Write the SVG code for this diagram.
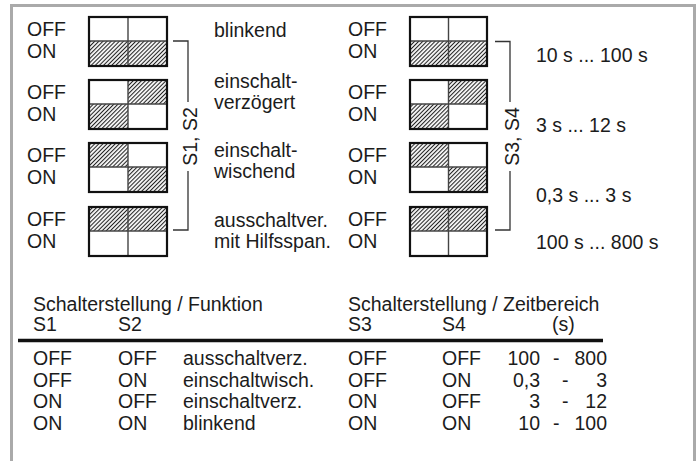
<svg xmlns="http://www.w3.org/2000/svg" width="697" height="461" viewBox="0 0 697 461">
<defs>
<pattern id="hatch" patternUnits="userSpaceOnUse" width="2.9" height="2.9" patternTransform="rotate(45)">
<rect width="2.9" height="2.9" fill="#f4f4f4"/>
<line x1="0.5" y1="0" x2="0.5" y2="2.9" stroke="#222" stroke-width="1"/>
</pattern>
<style>
text{font-family:"Liberation Sans",Arial,sans-serif;font-size:19.5px;fill:#1c1c1c}
.box{fill:none;stroke:#111;stroke-width:2.2}
.div{stroke:#444;stroke-width:1.4}
.h{fill:url(#hatch)}
.br{fill:none;stroke:#333;stroke-width:1.3}
.end{text-anchor:end}
</style>
</defs>
<rect x="11.5" y="5.5" width="683" height="470" fill="#fff" stroke="#aaaaaa" stroke-width="3"/>

<!-- left switches S1,S2 -->
<g id="sw-l1">
<rect class="h" x="89" y="41" width="78" height="25"/>
<line class="div" x1="128" y1="17" x2="128" y2="66"/><line class="div" x1="89" y1="41" x2="167" y2="41"/>
<rect class="box" x="89" y="17" width="78" height="49"/>
<text x="27" y="36">OFF</text><text x="27" y="58">ON</text>
</g>
<g id="sw-l2">
<rect class="h" x="128" y="80" width="39" height="24"/><rect class="h" x="89" y="104" width="39" height="25"/>
<line class="div" x1="128" y1="80" x2="128" y2="129"/><line class="div" x1="89" y1="104" x2="167" y2="104"/>
<rect class="box" x="89" y="80" width="78" height="49"/>
<text x="27" y="99">OFF</text><text x="27" y="121">ON</text>
</g>
<g id="sw-l3">
<rect class="h" x="89" y="143" width="39" height="24"/><rect class="h" x="128" y="167" width="39" height="25"/>
<line class="div" x1="128" y1="143" x2="128" y2="192"/><line class="div" x1="89" y1="167" x2="167" y2="167"/>
<rect class="box" x="89" y="143" width="78" height="49"/>
<text x="27" y="162">OFF</text><text x="27" y="184">ON</text>
</g>
<g id="sw-l4">
<rect class="h" x="89" y="207" width="78" height="24"/>
<line class="div" x1="128" y1="207" x2="128" y2="256"/><line class="div" x1="89" y1="231" x2="167" y2="231"/>
<rect class="box" x="89" y="207" width="78" height="49"/>
<text x="27" y="226">OFF</text><text x="27" y="248">ON</text>
</g>

<!-- function labels -->
<g id="labels-func">
<text x="214" y="37">blinkend</text>
<text x="214" y="88">einschalt-</text><text x="214" y="109">verzögert</text>
<text x="214" y="157">einschalt-</text><text x="214" y="178">wischend</text>
<text x="214" y="226.5">ausschaltver.</text><text x="214" y="248">mit Hilfsspan.</text>
</g>

<!-- right switches S3,S4 -->
<g id="sw-r1">
<rect class="h" x="410" y="41" width="77" height="25"/>
<line class="div" x1="448.5" y1="17" x2="448.5" y2="66"/><line class="div" x1="410" y1="41" x2="487" y2="41"/>
<rect class="box" x="410" y="17" width="77" height="49"/>
<text x="348" y="36">OFF</text><text x="348" y="58">ON</text>
</g>
<g id="sw-r2">
<rect class="h" x="448.5" y="80" width="38.5" height="24"/><rect class="h" x="410" y="104" width="38.5" height="25"/>
<line class="div" x1="448.5" y1="80" x2="448.5" y2="129"/><line class="div" x1="410" y1="104" x2="487" y2="104"/>
<rect class="box" x="410" y="80" width="77" height="49"/>
<text x="348" y="99">OFF</text><text x="348" y="121">ON</text>
</g>
<g id="sw-r3">
<rect class="h" x="410" y="143" width="38.5" height="24"/><rect class="h" x="448.5" y="167" width="38.5" height="25"/>
<line class="div" x1="448.5" y1="143" x2="448.5" y2="192"/><line class="div" x1="410" y1="167" x2="487" y2="167"/>
<rect class="box" x="410" y="143" width="77" height="49"/>
<text x="348" y="162">OFF</text><text x="348" y="184">ON</text>
</g>
<g id="sw-r4">
<rect class="h" x="410" y="207" width="77" height="24"/>
<line class="div" x1="448.5" y1="207" x2="448.5" y2="256"/><line class="div" x1="410" y1="231" x2="487" y2="231"/>
<rect class="box" x="410" y="207" width="77" height="49"/>
<text x="348" y="226">OFF</text><text x="348" y="248">ON</text>
</g>

<!-- time range labels -->
<g id="labels-time">
<text x="536" y="62">10 s ... 100 s</text>
<text x="536" y="131.5">3 s ... 12 s</text>
<text x="536" y="202">0,3 s ... 3 s</text>
<text x="536" y="249">100 s ... 800 s</text>
</g>

<!-- brackets -->
<g id="connectors">
<polyline class="br" points="173,41 188,41 188,102"/>
<polyline class="br" points="188,171 188,230 173,230"/>
<polyline class="br" points="495,41.5 510,41.5 510,102"/>
<polyline class="br" points="510,171 510,230 495,230"/>
</g>
<text transform="translate(197,136.5) rotate(-90)" text-anchor="middle">S1, S2</text>
<text transform="translate(519,136.5) rotate(-90)" text-anchor="middle">S3, S4</text>

<!-- table -->
<g id="table">
<text x="33" y="311">Schalterstellung / Funktion</text>
<text x="33" y="331">S1</text><text x="118" y="331">S2</text>
<text x="348" y="311">Schalterstellung / Zeitbereich</text>
<text x="348" y="331">S3</text><text x="442" y="331">S4</text><text x="552" y="331">(s)</text>
<line x1="18" y1="340.5" x2="603" y2="340.5" stroke="#111" stroke-width="3.5"/>

<text x="33" y="365">OFF</text><text x="118" y="365">OFF</text><text x="183" y="365">ausschaltverz.</text>
<text x="348" y="365">OFF</text><text x="442" y="365">OFF</text>
<text class="end" x="540" y="365">100</text><text x="553" y="365">-</text><text class="end" x="607" y="365">800</text>

<text x="33" y="386.5">OFF</text><text x="118" y="386.5">ON</text><text x="183" y="386.5">einschaltwisch.</text>
<text x="348" y="386.5">OFF</text><text x="442" y="386.5">ON</text>
<text class="end" x="540" y="386.5">0,3</text><text x="562" y="386.5">-</text><text class="end" x="607" y="386.5">3</text>

<text x="33" y="408">ON</text><text x="118" y="408">OFF</text><text x="183" y="408">einschaltverz.</text>
<text x="348" y="408">ON</text><text x="442" y="408">OFF</text>
<text class="end" x="540" y="408">3</text><text x="562" y="408">-</text><text class="end" x="607" y="408">12</text>

<text x="33" y="429.5">ON</text><text x="118" y="429.5">ON</text><text x="183" y="429.5">blinkend</text>
<text x="348" y="429.5">ON</text><text x="442" y="429.5">ON</text>
<text class="end" x="540" y="429.5">10</text><text x="553" y="429.5">-</text><text class="end" x="607" y="429.5">100</text>
</g>
</svg>
